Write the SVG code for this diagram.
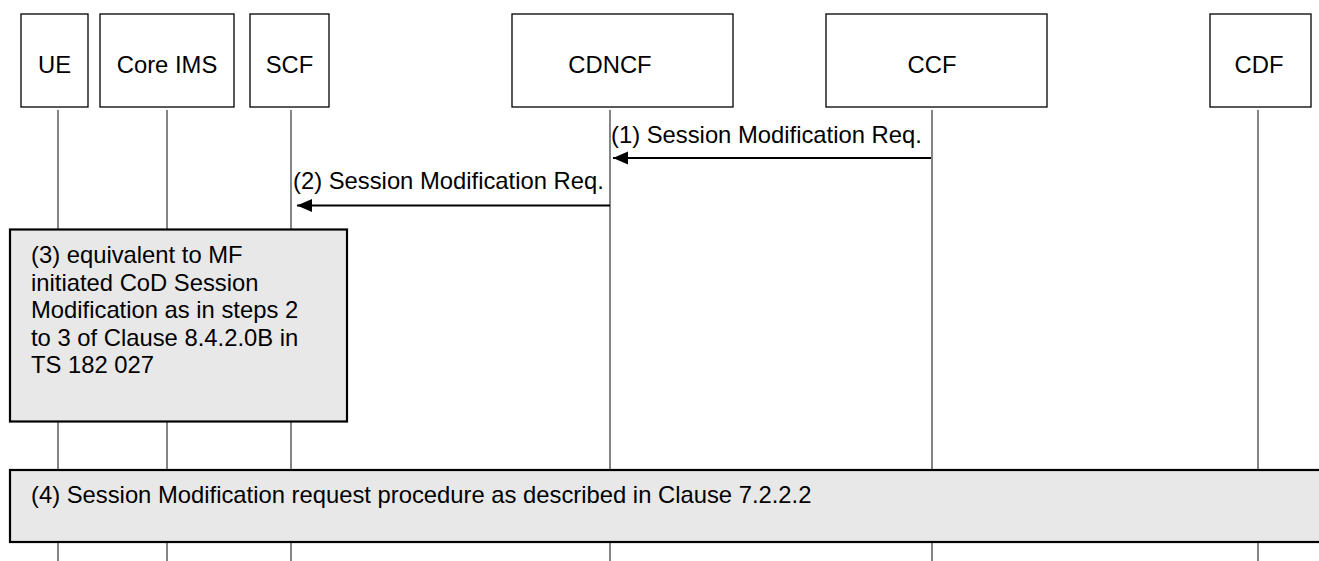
<svg xmlns="http://www.w3.org/2000/svg" width="1319" height="561" viewBox="0 0 1319 561">
<defs>
<style>
text{font-family:"Liberation Sans",Arial,sans-serif;font-size:23.8px;fill:#000}
.node rect{fill:#fff;stroke:#000;stroke-width:1.3}
.life{stroke:#333;stroke-width:1.2;fill:none}
.msg{stroke:#000;stroke-width:2;fill:none;marker-end:url(#ah)}
.note{fill:#e8e8e8;stroke:#000;stroke-width:2.2}
</style>
<marker id="ah" markerWidth="16" markerHeight="14" refX="15" refY="6.5" orient="auto" markerUnits="userSpaceOnUse">
<path d="M0,0 L15,6.5 L0,13 Z" fill="#000"/>
</marker>
</defs>
<rect width="1319" height="561" fill="#fff"/>
<g id="lifelines">
<line class="life" x1="58" y1="110" x2="58" y2="561"/>
<line class="life" x1="167" y1="110" x2="167" y2="561"/>
<line class="life" x1="291" y1="110" x2="291" y2="561"/>
<line class="life" x1="610" y1="110" x2="610" y2="561"/>
<line class="life" x1="932" y1="110" x2="932" y2="561"/>
<line class="life" x1="1258" y1="110" x2="1258" y2="561"/>
</g>
<g id="UE" class="node"><rect x="21" y="14" width="67" height="93"/><text x="54.5" y="73" text-anchor="middle">UE</text></g>
<g id="CoreIMS" class="node"><rect x="100" y="14" width="134" height="93"/><text x="167" y="73" text-anchor="middle">Core IMS</text></g>
<g id="SCF" class="node"><rect x="250" y="14" width="79" height="93"/><text x="289.5" y="73" text-anchor="middle">SCF</text></g>
<g id="CDNCF" class="node"><rect x="512" y="14" width="221" height="93"/><text x="610" y="73" text-anchor="middle">CDNCF</text></g>
<g id="CCF" class="node"><rect x="826" y="14" width="221" height="93"/><text x="932" y="73" text-anchor="middle">CCF</text></g>
<g id="CDF" class="node"><rect x="1210" y="14" width="101" height="93"/><text x="1259" y="73" text-anchor="middle">CDF</text></g>
<g id="connectors">
<line class="msg" x1="931" y1="158" x2="613" y2="158"/>
<text x="611" y="143">(1) Session Modification Req.</text>
<line class="msg" x1="610" y1="205.5" x2="297" y2="205.5"/>
<text x="293" y="189">(2) Session Modification Req.</text>
</g>
<g id="step3">
<rect class="note" x="10" y="229.5" width="337" height="192"/>
<text x="31" y="263">(3) equivalent to MF</text>
<text x="31" y="290.5">initiated CoD Session</text>
<text x="31" y="318">Modification as in steps 2</text>
<text x="31" y="345.5">to 3 of Clause 8.4.2.0B in</text>
<text x="31" y="373">TS 182 027</text>
</g>
<g id="step4">
<rect class="note" x="10" y="470" width="1320" height="72"/>
<text x="31" y="503">(4) Session Modification request procedure as described in Clause 7.2.2.2</text>
</g>
</svg>
